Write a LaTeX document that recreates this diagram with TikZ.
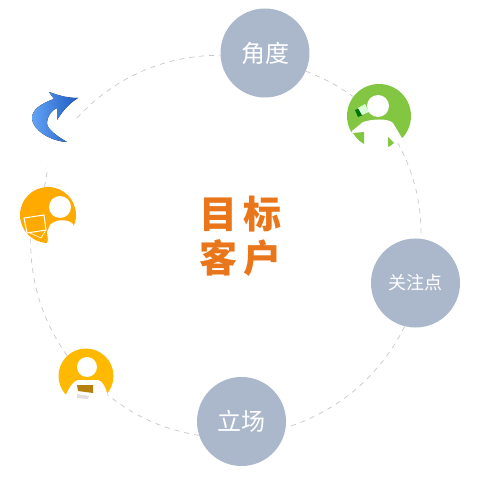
\documentclass[tikz,border=0pt]{standalone}
\usepackage{fontspec}
\newfontfamily\cjk{Noto Sans CJK SC}
\usepackage{tikz}
\usetikzlibrary{positioning, calc}
\definecolor{ringblue}{HTML}{ABB7CB}
\definecolor{titleorange}{HTML}{E9761A}
\definecolor{leafgreen}{HTML}{82C642}
\definecolor{amber}{HTML}{FFAA00}
\definecolor{gold}{HTML}{FFB900}
\tikzstyle{ringline}=[dash pattern=on 5pt off 5pt, color=black!22, line width=0.7pt, looseness=0.9]

\begin{document}
\begin{tikzpicture}[x=1pt, y=-1pt,
  ringnode/.style={circle, fill=ringblue, text=white, minimum size=89pt, inner sep=0pt, font=\cjk\fontsize{24}{26}\selectfont},
  iconnode/.style={circle, inner sep=0pt}
]
\useasboundingbox (0,0) rectangle (479,478);

\coordinate (arrowend) at (77,118);
\coordinate (arrowgap) at (48,167);

\node[ringnode] (angle)  at (265,53) {角度};
\node[ringnode, font=\cjk\fontsize{18}{20}\selectfont] (focus)  at (415.5,283) {关注点};
\node[ringnode] (stance) at (241.5,421.5) {立场};
\node[iconnode, fill=leafgreen, minimum size=64pt] (phone)  at (379,116) {};
\node[iconnode, fill=amber, minimum size=56pt] (laptop) at (48,215) {};
\node[iconnode, fill=gold, minimum size=55pt] (reader) at (86,376) {};

\node[text=titleorange, align=center, font=\cjk\bfseries\fontsize{38}{44}\selectfont] (title) at (240.5,236) {目\hspace{7pt}标\\客\hspace{7pt}户};

% ring
\draw[ringline] (angle.336)  to[bend left=7]  (phone.143);
\draw[ringline] (phone.305)  to[bend left=15] (focus.83);
\draw[ringline] (focus.256)  to[bend left=23] (stance.352);
\draw[ringline] (stance.198) to[bend left=15] (reader.319);
\draw[ringline] (reader.133) to[bend left=18] (laptop.232);
\draw[ringline] (laptop.97)  -- (arrowgap);
\draw[ringline] (arrowend)   to[bend left=24] (angle.183);

% arrow
\fill[left color={rgb,255:red,100;green,165;blue,245}, right color={rgb,255:red,30;green,90;blue,195}]
  (78,98) .. controls (68,98) and (60,96) .. (49,92)
  -- (54,99) .. controls (42,103) and (31,110) .. (32,119)
  .. controls (33,130) and (50,141) .. (67,142)
  .. controls (55,135) and (46,128) .. (47,122)
  .. controls (48,115) and (52,110) .. (57,108)
  -- (57,120) .. controls (62,112) and (68,104) .. (78,98) -- cycle;

% phone icon
\begin{scope}
\clip (phone) circle (33);
\fill[white] (352,131) -- (363,122) .. controls (372,119) and (388,118) .. (393,123) -- (412,155) -- (340,155) -- cycle;
\end{scope}
\fill[leafgreen] (353,133) -- (364,132) -- (364,144) .. controls (359,141) and (356,138) .. (353,133) -- cycle;
\fill[leafgreen] (388,137) -- (394,143) .. controls (392,145) and (390,146) .. (388,147) -- cycle;
\fill[white] (378,106) circle (11);
\fill[green!45!black] (355,110) -- (360,108) -- (363,115) -- (358,117) -- cycle;
\fill[green!15!white] (358,108) -- (365,104) -- (369,112) -- (362,115) -- cycle;

% laptop icon
\begin{scope}
\clip (laptop) circle (29);
\fill[white] (47,232) -- (50,225) .. controls (56,219) and (66,219) .. (72,223) -- (78,232) -- (78,250) -- (44,250) -- (48,240) -- cycle;
\end{scope}
\fill[white] (60,207) circle (11);
\draw[white, line width=1pt, fill=amber] (24,218) -- (44,215) -- (46,230) -- (27,233) -- cycle;
\draw[white, line width=0.6pt] (30,233) -- (41,238) -- (46,230);

% reader icon
\begin{scope}
\clip (reader) circle (28.5);
\fill[white] (65,397) .. controls (70,385) and (74,381) .. (78,380) -- (98,380) .. controls (103,381) and (106,388) .. (108,397) -- (109,406) -- (65,406) -- cycle;
\end{scope}
\fill[white] (87,367) circle (10);
\fill[white!88!black] (77,394) -- (89,396) -- (88,399) -- (77,398) -- cycle;
\fill[black!30!gold!80!brown] (77,385) -- (93,385) -- (93,393) -- (78,391) -- cycle;
\end{tikzpicture}
\end{document}
